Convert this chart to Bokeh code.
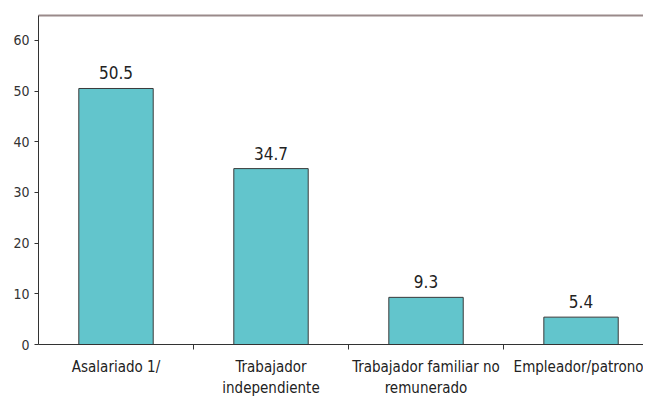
from bokeh.plotting import figure
from bokeh.models import Range1d, FixedTicker, LinearAxis, ColumnDataSource
from bokeh.embed import file_html
from bokeh.resources import INLINE

categories = ["Asalariado 1/", "Trabajador\nindependiente", "Trabajador familiar no\nremunerado", "Empleador/patrono"]
values = [50.5, 34.7, 9.3, 5.4]
y_ticks = [0, 10, 20, 30, 40, 50, 60]

FONT = "DejaVu Sans Condensed"
TXT = "#222222"

xs = [i + 0.5 for i in range(len(categories))]
src = ColumnDataSource(dict(x=xs, top=values, label=[f"{v:.1f}" for v in values]))

p = figure(width=643, height=400, output_backend="svg", toolbar_location=None,
           x_range=Range1d(0, 3.903), y_range=Range1d(0, 64.9),
           min_border_left=38, min_border_right=0, min_border_top=15, min_border_bottom=40,
           x_axis_type=None)
p.outline_line_color = None
p.xgrid.visible = False
p.ygrid.visible = False
p.background_fill_color = "white"
p.border_fill_color = "white"

p.vbar(x="x", top="top", width=0.48, bottom=0, source=src,
       fill_color="#62c5cc", line_color="#3a3a3a", line_width=1)
p.text(x="x", y="top", text="label", source=src, text_align="center",
       text_baseline="bottom", y_offset=-9, text_font_size="17px",
       text_color=TXT, text_font={"value": FONT})

# y axis
ya = p.yaxis[0]
ya.ticker = FixedTicker(ticks=y_ticks)
ya.minor_tick_line_color = None
ya.major_tick_in = 0
ya.major_tick_out = 4
ya.major_label_standoff = 5
ya.major_label_text_font = FONT
ya.major_label_text_font_size = "14px"
ya.major_label_text_color = "#333333"
ya.axis_line_color = "#333333"
ya.major_tick_line_color = "#333333"

# x axis
xa = LinearAxis(ticker=FixedTicker(ticks=xs, minor_ticks=[1, 2, 3]))
xa.major_label_overrides = {x: c for x, c in zip(xs, categories)}
xa.major_tick_line_color = None
xa.minor_tick_in = 0
xa.minor_tick_out = 5
xa.minor_tick_line_color = "#333333"
xa.axis_line_color = "#333333"
xa.major_label_standoff = 7
xa.major_label_text_font = FONT
xa.major_label_text_font_size = "15px"
xa.major_label_text_color = TXT
p.add_layout(xa, "below")

# top border line
ta = LinearAxis(ticker=FixedTicker(ticks=[]))
ta.major_tick_out = 0
ta.major_tick_in = 0
ta.major_label_standoff = 0
ta.major_label_text_font_size = "0px"
ta.minor_tick_line_color = None
ta.axis_line_color = "#9a8a8a"
ta.axis_line_width = 2
p.add_layout(ta, "above")

open("out.html", "w").write(file_html(p, INLINE))
